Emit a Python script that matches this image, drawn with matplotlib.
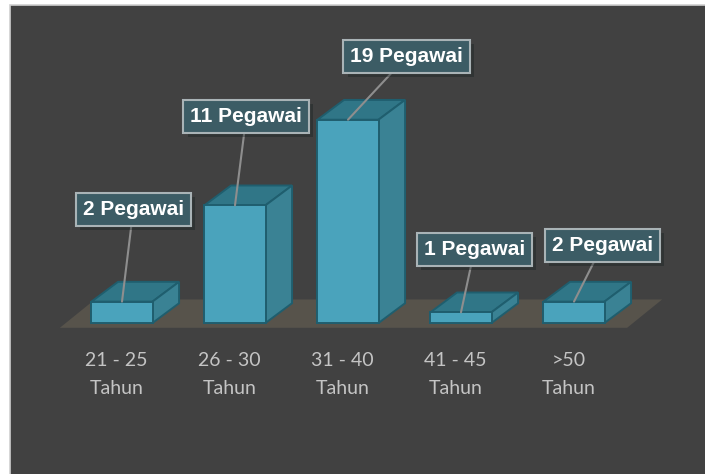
import matplotlib

matplotlib.use("Agg")
import matplotlib.pyplot as plt
import matplotlib.patheffects as pe
from matplotlib.patches import Polygon, Rectangle

# data
categories = ["21 - 25\nTahun", "26 - 30\nTahun", "31 - 40\nTahun", "41 - 45\nTahun", ">50\nTahun"]
counts = [2, 11, 19, 1, 2]
label_texts = [f"{c} Pegawai" for c in counts]

# label box centres: x offset from bar centre, y in data units
label_dx = [0.10, 0.10, 0.52, 0.12, 0.25]
label_y = [10.6, 19.3, 24.9, 6.9, 7.25]

FRONT = "#4aa3bc"
TOP = "#307687"
SIDE = "#3a8294"
EDGE = "#1f5e6e"
BG = "#414141"

W, H = 705, 474
fig = plt.figure(figsize=(W / 100, H / 100), dpi=100)
fig.patch.set_facecolor("white")
fig.add_artist(Rectangle((9.5 / W, -0.01), 1, 1 - 4.5 / H + 0.01, transform=fig.transFigure,
                         facecolor=BG, edgecolor="#cfcfcf", linewidth=1.2, zorder=0))

ax = fig.add_axes([0, 0, 1, 1])
ax.set_zorder(1)
ax.axis("off")
# 113 px per category, bar 0 centre at x=122 px; 10.7 px per unit, zero at y=323 px
ax.set_xlim(-122 / 113, (W - 122) / 113)
ax.set_ylim(-(H - 323) / 10.7, 323 / 10.7)

w, dx, dy = 0.54, 0.235, 1.85

# floor
floor = Polygon([(-0.55, -0.45), (4.47, -0.45), (4.47 + 0.31, 2.2), (-0.55 + 0.31, 2.2)],
                closed=True, facecolor="#57534b", edgecolor="none", zorder=1)
ax.add_patch(floor)

x = list(range(len(counts)))
for xi, v in zip(x, counts):
    l, r = xi - w / 2, xi + w / 2
    ax.add_patch(Polygon([(l, v), (r, v), (r + dx, v + dy), (l + dx, v + dy)], closed=True,
                         facecolor=TOP, edgecolor=EDGE, linewidth=1.4, zorder=2))
    ax.add_patch(Polygon([(r, 0), (r + dx, dy), (r + dx, v + dy), (r, v)], closed=True,
                         facecolor=SIDE, edgecolor=EDGE, linewidth=1.4, zorder=2))
ax.bar(x, counts, width=w, color=FRONT, edgecolor=EDGE, linewidth=1.4, zorder=3)

for xi, cat in zip(x, categories):
    ax.text(xi - 0.05, -4.8, cat, ha="center", va="center", color="#c4c4c4",
            fontsize=14, family="Lato", linespacing=1.75)

for xi, v, txt, ddx, ly in zip(x, counts, label_texts, label_dx, label_y):
    ann = ax.annotate(txt, xy=(xi, v), xytext=(xi + ddx, ly), ha="center", va="center",
                      color="white", fontsize=15, fontweight="bold", family="Liberation Sans",
                      bbox=dict(boxstyle="square,pad=0.33", facecolor="#3c5c65", edgecolor="#a9b3b6",
                                linewidth=1.5),
                      arrowprops=dict(arrowstyle="-", color="#8e8e8e", linewidth=1.5,
                                      shrinkA=0, shrinkB=0),
                      zorder=5)
    ann.get_bbox_patch().set_path_effects([pe.SimplePatchShadow(offset=(3, -3), alpha=0.35),
                                           pe.Normal()])

fig.savefig("out.png", dpi=100, facecolor=fig.get_facecolor())
